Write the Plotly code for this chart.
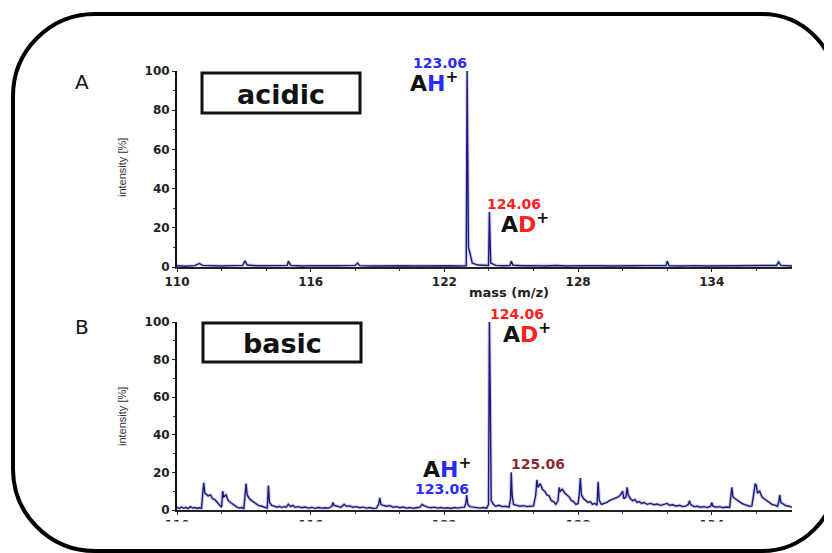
import plotly.graph_objects as go

# ---------------- data ----------------
acidic_mass = [110.0, 110.4, 110.8, 111.0, 111.15, 111.5, 112.0, 112.5, 112.95, 113.05, 113.15, 113.6,
               114.1, 114.6, 114.95, 115.0, 115.1, 115.6, 116.1, 116.6, 117.1, 117.6, 118.0, 118.1,
               118.2, 118.7, 119.2, 119.7, 120.2, 120.7, 121.2, 121.7, 122.2, 122.7, 122.98, 123.02,
               123.08, 123.15, 123.25, 123.5, 123.9, 123.98, 124.02, 124.08, 124.3, 124.6, 124.95, 125.0,
               125.08, 125.5, 126.0, 126.5, 127.0, 127.5, 128.0, 128.5, 129.0, 129.5, 130.0, 130.5,
               131.0, 131.5, 131.95, 132.0, 132.08, 132.6, 133.2, 133.8, 134.4, 135.0, 135.6, 136.2,
               136.9, 137.0, 137.1, 137.6]
acidic_int = [0.6, 0.4, 0.7, 1.8, 0.8, 0.6, 0.5, 0.7, 0.8, 3.2, 1.0, 0.6,
              0.5, 0.7, 0.8, 3.0, 0.8, 0.5, 0.7, 0.5, 0.6, 0.7, 0.8, 2.0,
              0.7, 0.5, 0.6, 0.5, 0.6, 0.5, 0.6, 0.5, 0.6, 0.5, 0.6, 100,
              10, 7, 2, 1, 0.6, 0.8, 28, 2, 0.8, 0.6, 0.8, 3,
              0.9, 0.6, 0.7, 0.5, 0.8, 0.5, 0.7, 0.5, 0.6, 0.5, 0.7, 0.6,
              0.7, 0.5, 0.7, 3, 0.6, 0.5, 0.7, 0.5, 0.6, 0.5, 0.7, 0.6,
              0.8, 2.5, 0.8, 0.5]

basic_mass = [110.0, 110.1, 110.2, 110.3, 110.4, 110.5, 110.6, 110.7, 110.8, 110.9, 111.0, 111.1,
              111.15, 111.2, 111.25, 111.3, 111.4, 111.5, 111.6, 111.7, 111.8, 111.9, 112.0,
              112.05, 112.1, 112.2, 112.3, 112.4, 112.5, 112.6, 112.7, 112.8, 112.9, 113.0,
              113.05, 113.1, 113.15, 113.25, 113.35, 113.45, 113.55, 113.65, 113.8, 113.9, 114.0, 114.05,
              114.1, 114.15, 114.25, 114.35, 114.5, 114.6, 114.7, 114.8, 114.9, 115.0, 115.1, 115.2,
              115.3, 115.45, 115.6, 115.75, 115.9, 116.05, 116.2, 116.35, 116.5, 116.65, 116.8, 116.95,
              117.0, 117.05, 117.2, 117.35, 117.5, 117.6, 117.75, 117.9, 118.05, 118.2, 118.35, 118.5,
              118.65, 118.8, 118.95, 119.05, 119.1, 119.15, 119.25, 119.4, 119.55, 119.7, 119.85, 120.0,
              120.15, 120.3, 120.45, 120.6, 120.75, 120.9, 121.0, 121.1, 121.25, 121.4, 121.55, 121.7,
              121.85, 122.0, 122.15, 122.3, 122.45, 122.6, 122.75, 122.9, 122.97, 123.0, 123.05, 123.15,
              123.3, 123.45, 123.6, 123.75, 123.9, 123.98, 124.02, 124.06, 124.1, 124.2, 124.3, 124.45,
              124.6, 124.75, 124.9, 124.97, 125.0, 125.04, 125.1, 125.25, 125.4, 125.55, 125.7, 125.85,
              126.0, 126.1, 126.15, 126.2, 126.3, 126.4, 126.5, 126.6, 126.7, 126.8, 126.9, 127.0,
              127.1, 127.15, 127.2, 127.3, 127.4, 127.5, 127.6, 127.7, 127.8, 127.9, 128.0, 128.05,
              128.1, 128.15, 128.25, 128.35, 128.45, 128.55, 128.65, 128.75, 128.85, 128.9, 128.95, 129.05,
              129.15, 129.3, 129.4, 129.5, 129.6, 129.7, 129.8, 129.9, 130.0, 130.05, 130.15, 130.2,
              130.25, 130.35, 130.45, 130.55, 130.65, 130.75, 130.85, 130.95, 131.1, 131.25, 131.4, 131.55,
              131.7, 131.85, 132.0, 132.1, 132.25, 132.4, 132.55, 132.7, 132.85, 132.95, 133.0, 133.05,
              133.2, 133.35, 133.5, 133.65, 133.8, 133.95, 134.0, 134.05, 134.2, 134.35, 134.5, 134.65,
              134.8, 134.9, 134.95, 135.05, 135.15, 135.25, 135.35, 135.45, 135.55, 135.7, 135.8, 135.85,
              135.9, 135.95, 136.0, 136.05, 136.15, 136.25, 136.35, 136.45, 136.55, 136.7, 136.85, 136.95,
              137.0, 137.05, 137.1, 137.2, 137.3, 137.45, 137.6]
basic_int = [1.5, 0.8, 1.6, 0.9, 1.4, 0.7, 1.8, 1.0, 1.3, 0.8, 1.2, 0.9,
             8, 14.5, 9, 8.5, 7.5, 8, 6, 5.5, 4, 2.5, 1.5,
             10, 7, 8, 5, 4, 3, 2, 1.5, 1.0, 1.3, 0.8,
             8, 14, 8, 6, 5, 4, 3, 2.5, 2, 1.5, 1.2, 1.0,
             13, 4, 2.5, 2, 1.5, 2, 1.3, 1.8, 1.5, 3, 1.8, 2.5,
             1.5, 1.8, 1.2, 1.6, 1.0, 1.4, 0.9, 1.3, 1.0, 1.2, 1.0, 2,
             4, 2.5, 2, 1.5, 3, 2, 2.2, 1.5, 1.8, 1.2, 1.5, 1.0,
             1.3, 0.8, 1.0, 3, 6.5, 3, 2.5, 2, 2.3, 1.5, 1.8, 1.2,
             1.6, 1.0, 1.3, 0.9, 1.2, 1.5, 3, 2.2, 1.5, 1.2, 1.5, 1.0,
             1.3, 0.9, 1.2, 0.8, 1.3, 1.0, 1.4, 1.5, 4, 8, 3, 1.8,
             1.5, 1.2, 1.0, 1.3, 1.0, 3, 100, 60, 5, 3, 2, 2.5,
             1.8, 2, 1.5, 6, 20, 8, 3, 2.5, 2, 2.3, 1.8, 2,
             2.2, 8, 16, 12, 14, 11, 10, 8, 7.5, 5, 4.5, 3,
             5, 12, 10, 11, 9, 8, 7, 5, 4.5, 3, 3.5, 8,
             17, 8, 6, 5, 4, 4.5, 3, 3.5, 2.5, 15, 5, 3,
             3.5, 4, 5, 5.5, 6, 6.5, 7, 8, 10, 6, 7, 12,
             8, 6, 5, 5.5, 4, 4.5, 3.5, 4, 3, 3.5, 2.8, 3.2,
             2.5, 3, 3.5, 2.5, 2.8, 2, 2.5, 1.8, 2.2, 3, 5, 3,
             1.8, 2, 1.5, 1.8, 1.3, 2, 4, 2, 1.5, 1.8, 1.2, 1.6,
             1.3, 12, 7, 6, 5, 4, 3.5, 3, 2.5, 2, 2.2, 6,
             10, 14, 13, 9, 10, 7, 6, 5, 4, 3, 2.5, 2,
             4, 8, 4, 3, 2.5, 2, 1.5]

x_ticks = [110, 116, 122, 128, 134]
y_ticks = [0, 20, 40, 60, 80, 100]
x_range = [110, 137.6]
y_range = [0, 100]

# ---------------- layout helpers ----------------
W, H = 832, 553
OFF = 8  # page body margin: figure starts 8px in from the window corner


def px(x):
    return (x - OFF) / W


def py(y):
    return 1 - (y - OFF) / H


NAVY = "#1a1a80"
HALO = "rgba(120,120,190,0.35)"
BLUE = "#2a2aff"
RED = "#ff2020"
BROWN = "#8b2c2c"

fig = go.Figure()

for mass, inten, xa, ya in [(acidic_mass, acidic_int, "x", "y"), (basic_mass, basic_int, "x2", "y2")]:
    fig.add_trace(go.Scatter(x=mass, y=inten, xaxis=xa, yaxis=ya, mode="lines",
                             line=dict(color=HALO, width=3.5), hoverinfo="skip", showlegend=False))
    fig.add_trace(go.Scatter(x=mass, y=inten, xaxis=xa, yaxis=ya, mode="lines",
                             line=dict(color=NAVY, width=1.4), showlegend=False))

tickfont = dict(family="DejaVu Sans", size=12, color="#222", weight="bold")
xcommon = dict(range=x_range, tickvals=x_ticks, ticktext=[str(t) for t in x_ticks], showgrid=False,
               zeroline=False, showline=True, linecolor="#222", linewidth=1.5, ticks="outside",
               ticklen=3, tickcolor="#222", tickfont=tickfont, automargin=False,
               minor=dict(dtick=2, tick0=110, ticks="outside", ticklen=2, tickcolor="#444"),
               domain=[px(177), px(792)], fixedrange=True)
ycommon = dict(range=y_range, tickvals=y_ticks, ticktext=[str(t) for t in y_ticks], showgrid=False,
               zeroline=False, showline=True, linecolor="#111", linewidth=2, ticks="outside",
               ticklen=3, tickcolor="#222", tickfont=tickfont, automargin=False,
               minor=dict(dtick=10, tick0=0, ticks="outside", ticklen=2, tickcolor="#444"),
               fixedrange=True)

fig.update_layout(
    width=W, height=H, margin=dict(l=0, r=0, t=0, b=0, pad=0, autoexpand=False),
    autosize=False,
    paper_bgcolor="white", plot_bgcolor="white",
    xaxis=dict(**xcommon, anchor="y"),
    yaxis=dict(**ycommon, domain=[py(267), py(71)], anchor="x"),
    xaxis2=dict(**xcommon, anchor="y2"),
    yaxis2=dict(**ycommon, domain=[py(510), py(322)], anchor="x2"),
)

ann = []


def add_text(x, y, text, size, color="#111", family="DejaVu Sans", weight="bold", xanchor="center"):
    ann.append(dict(x=px(x), y=py(y), xref="paper", yref="paper", text=text, showarrow=False,
                    xanchor=xanchor, yanchor="middle",
                    font=dict(family=family, size=size, color=color, weight=weight)))


# panel letters
add_text(82, 82, "A", 20, family="DejaVu Sans", weight="normal")
add_text(82, 327, "B", 20, family="DejaVu Sans", weight="normal")
# axis titles
for yc in (168, 417):
    ann.append(dict(x=px(122), y=py(yc), xref="paper", yref="paper", text="intensity [%]",
                    showarrow=False, textangle=-90, xanchor="center", yanchor="middle",
                    font=dict(family="Liberation Sans", size=11, color="#333")))
add_text(509, 292, "mass (m/z)", 13, color="#222")
# box labels
add_text(281, 94, "acidic", 27)
add_text(282, 343, "basic", 27)
# peak labels top
add_text(440, 63, "123.06", 14, color=BLUE)
add_text(434, 82, "A<span style='color:%s'>H</span><sup>+</sup>" % BLUE, 22)
add_text(514, 204, "124.06", 14, color=RED)
add_text(525, 223, "A<span style='color:%s'>D</span><sup>+</sup>" % RED, 22)
# peak labels bottom
add_text(517, 314, "124.06", 14, color=RED)
add_text(527, 333, "A<span style='color:%s'>D</span><sup>+</sup>" % RED, 22)
add_text(447, 468, "A<span style='color:%s'>H</span><sup>+</sup>" % BLUE, 22)
add_text(442, 489, "123.06", 14, color=BLUE)
add_text(538, 464, "125.06", 14, color=BROWN)

fig.update_layout(annotations=ann)

shapes = []
# label boxes
for x0, y0, x1, y1 in [(202, 73, 360, 113), (203, 323, 361, 362)]:
    shapes.append(dict(type="rect", xref="paper", yref="paper", x0=px(x0), y0=py(y0), x1=px(x1), y1=py(y1),
                       line=dict(color="#111", width=3), fillcolor="rgba(0,0,0,0)", layer="above"))
# white strip hiding the lower part of the bottom tick labels
shapes.append(dict(type="rect", xref="paper", yref="paper", x0=px(95), y0=py(521.5), x1=px(805), y1=py(549),
                   line=dict(width=0), fillcolor="white", layer="above"))

# rounded outer frame
L, T, R, B = 13, 14, 836, 551
r1, r2 = 82, 74
k = 0.5523


def P(x, y):
    return "%.5f,%.5f" % (px(x), py(y))


path = ("M " + P(L + r1, T) + " L " + P(R - r2, T) +
        " C " + P(R - r2 + k * r2, T) + " " + P(R, T + r2 - k * r2) + " " + P(R, T + r2) +
        " L " + P(R, B - r2) +
        " C " + P(R, B - r2 + k * r2) + " " + P(R - r2 + k * r2, B) + " " + P(R - r2, B) +
        " L " + P(L + r1, B) +
        " C " + P(L + r1 - k * r1, B) + " " + P(L, B - r1 + k * r1) + " " + P(L, B - r1) +
        " L " + P(L, T + r1) +
        " C " + P(L, T + r1 - k * r1) + " " + P(L + r1 - k * r1, T) + " " + P(L + r1, T) + " Z")
shapes.append(dict(type="path", xref="paper", yref="paper", path=path,
                   line=dict(color="black", width=4), fillcolor="rgba(0,0,0,0)", layer="above"))

fig.update_layout(shapes=shapes)

fig.write_html("out.html")
